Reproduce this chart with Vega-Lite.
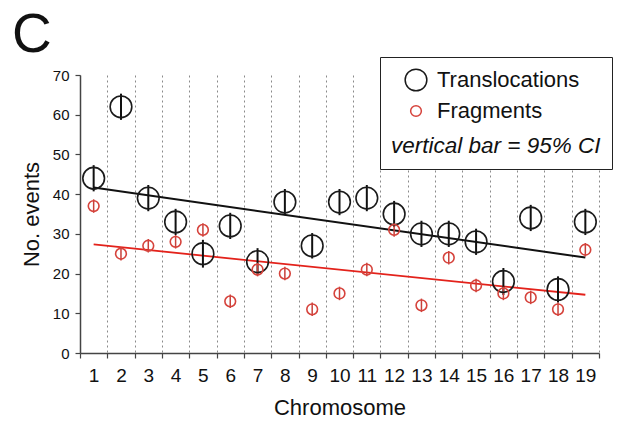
{
  "$schema": "https://vega.github.io/schema/vega-lite/v6.json",
  "autosize": "none",
  "width": 519,
  "height": 278,
  "padding": {"left": 80, "top": 75, "right": 22, "bottom": 73},
  "background": "white",
  "config": {
    "font": "Liberation Sans",
    "view": {"stroke": null},
    "axis": {"labelColor": "#111", "titleColor": "#111", "titleFontWeight": "normal", "domainColor": "#444", "tickColor": "#444", "domainWidth": 1.5, "tickWidth": 1.2},
    "axisY": {"tickCount": 8, "labelOverlap": false, "labelFontSize": 15, "labelPadding": 6, "tickSize": 5, "grid": false, "titleFontSize": 22, "titlePadding": 9}
  },
  "title": {"text": "C", "anchor": "start", "frame": "group", "orient": "top", "offset": 2, "dx": -68, "dy": 52, "fontSize": 55, "fontWeight": "normal", "color": "#111", "baseline": "alphabetic"},
  "data": {"values": [
    {"chrom": 1, "series": "Translocations", "count": 44, "lo": 40.7, "hi": 47.3},
    {"chrom": 2, "series": "Translocations", "count": 62, "lo": 58.7, "hi": 65.3},
    {"chrom": 3, "series": "Translocations", "count": 39, "lo": 35.7, "hi": 42.3},
    {"chrom": 4, "series": "Translocations", "count": 33, "lo": 29.7, "hi": 36.3},
    {"chrom": 5, "series": "Translocations", "count": 25, "lo": 21.5, "hi": 28.5},
    {"chrom": 6, "series": "Translocations", "count": 32, "lo": 28.7, "hi": 35.3},
    {"chrom": 7, "series": "Translocations", "count": 23, "lo": 19.6, "hi": 26.4},
    {"chrom": 8, "series": "Translocations", "count": 38, "lo": 34.7, "hi": 41.3},
    {"chrom": 9, "series": "Translocations", "count": 27, "lo": 23.8, "hi": 30.2},
    {"chrom": 10, "series": "Translocations", "count": 38, "lo": 34.7, "hi": 41.3},
    {"chrom": 11, "series": "Translocations", "count": 39, "lo": 35.7, "hi": 42.3},
    {"chrom": 12, "series": "Translocations", "count": 35, "lo": 31.7, "hi": 38.3},
    {"chrom": 13, "series": "Translocations", "count": 30, "lo": 26.7, "hi": 33.3},
    {"chrom": 14, "series": "Translocations", "count": 30, "lo": 26.7, "hi": 33.3},
    {"chrom": 15, "series": "Translocations", "count": 28, "lo": 24.7, "hi": 31.3},
    {"chrom": 16, "series": "Translocations", "count": 18, "lo": 14.6, "hi": 21.4},
    {"chrom": 17, "series": "Translocations", "count": 34, "lo": 30.7, "hi": 37.3},
    {"chrom": 18, "series": "Translocations", "count": 16, "lo": 12.7, "hi": 19.3},
    {"chrom": 19, "series": "Translocations", "count": 33, "lo": 29.7, "hi": 36.3},
    {"chrom": 1, "series": "Fragments", "count": 37, "lo": 35.3, "hi": 38.7},
    {"chrom": 2, "series": "Fragments", "count": 25, "lo": 23.3, "hi": 26.7},
    {"chrom": 3, "series": "Fragments", "count": 27, "lo": 25.3, "hi": 28.7},
    {"chrom": 4, "series": "Fragments", "count": 28, "lo": 26.3, "hi": 29.7},
    {"chrom": 5, "series": "Fragments", "count": 31, "lo": 29.3, "hi": 32.7},
    {"chrom": 6, "series": "Fragments", "count": 13, "lo": 11.3, "hi": 14.7},
    {"chrom": 7, "series": "Fragments", "count": 21, "lo": 19.3, "hi": 22.7},
    {"chrom": 8, "series": "Fragments", "count": 20, "lo": 18.3, "hi": 21.7},
    {"chrom": 9, "series": "Fragments", "count": 11, "lo": 9.3, "hi": 12.7},
    {"chrom": 10, "series": "Fragments", "count": 15, "lo": 13.3, "hi": 16.7},
    {"chrom": 11, "series": "Fragments", "count": 21, "lo": 19.3, "hi": 22.7},
    {"chrom": 12, "series": "Fragments", "count": 31, "lo": 29.3, "hi": 32.7},
    {"chrom": 13, "series": "Fragments", "count": 12, "lo": 10.3, "hi": 13.7},
    {"chrom": 14, "series": "Fragments", "count": 24, "lo": 22.3, "hi": 25.7},
    {"chrom": 15, "series": "Fragments", "count": 17, "lo": 15.3, "hi": 18.7},
    {"chrom": 16, "series": "Fragments", "count": 15, "lo": 13.3, "hi": 16.7},
    {"chrom": 17, "series": "Fragments", "count": 14, "lo": 12.3, "hi": 15.7},
    {"chrom": 18, "series": "Fragments", "count": 11, "lo": 9.3, "hi": 12.7},
    {"chrom": 19, "series": "Fragments", "count": 26, "lo": 24.3, "hi": 27.7}
  ]},
  "encoding": {
    "x": {
      "field": "chrom", "type": "quantitative",
      "scale": {"domain": [0.5, 19.5], "nice": false, "zero": false},
      "axis": {
        "title": "Chromosome", "titleFontSize": 22, "titlePadding": 12,
        "values": [0.5,1.5,2.5,3.5,4.5,5.5,6.5,7.5,8.5,9.5,10.5,11.5,12.5,13.5,14.5,15.5,16.5,17.5,18.5,19.5],
        "labelExpr": "datum.value < 19 ? format(datum.value + 0.5, 'd') : ''",
        "labelOffset": 13.6, "labelFontSize": 19, "labelPadding": 8, "labelFlush": false, "labelOverlap": false,
        "tickSize": 5,
        "grid": true, "gridDash": [2, 3], "gridColor": "#8a8a8a", "gridWidth": 1
      }
    }
  },
  "layer": [
    {
      "transform": [{"filter": "datum.series === 'Translocations'"}, {"regression": "count", "on": "chrom"}],
      "mark": {"type": "line", "strokeWidth": 2, "color": "#111111"},
      "encoding": {"y": {
          "field": "count", "type": "quantitative",
          "scale": {"domain": [0, 70], "nice": false, "zero": true},
          "axis": {"title": "No. events", "values": [0,10,20,30,40,50,60,70], "tickCount": 8, "labelOverlap": false}
      }}
    },
    {
      "transform": [{"filter": "datum.series === 'Fragments'"}, {"regression": "count", "on": "chrom"}],
      "mark": {"type": "line", "strokeWidth": 1.8, "color": "#e3221b"},
      "encoding": {"y": {"field": "count", "type": "quantitative", "axis": {"title": "No. events", "values": [0,10,20,30,40,50,60,70], "tickCount": 8, "labelOverlap": false}}}
    },
    {
      "transform": [{"filter": "datum.series === 'Translocations'"}],
      "mark": {"type": "rule", "color": "#111111", "strokeWidth": 2},
      "encoding": {"y": {"field": "lo", "type": "quantitative", "axis": {"title": "No. events", "values": [0,10,20,30,40,50,60,70], "tickCount": 8, "labelOverlap": false}}, "y2": {"field": "hi"}}
    },
    {
      "transform": [{"filter": "datum.series === 'Fragments'"}],
      "mark": {"type": "rule", "color": "#c8403a", "strokeWidth": 1.5},
      "encoding": {"y": {"field": "lo", "type": "quantitative", "axis": {"title": "No. events", "values": [0,10,20,30,40,50,60,70], "tickCount": 8, "labelOverlap": false}}, "y2": {"field": "hi"}}
    },
    {
      "mark": {"type": "point", "shape": "circle", "filled": false, "opacity": 1, "strokeWidth": 1.6},
      "encoding": {
        "y": {"field": "count", "type": "quantitative", "axis": {"title": "No. events", "values": [0,10,20,30,40,50,60,70], "tickCount": 8, "labelOverlap": false}},
        "color": {
          "field": "series", "type": "nominal",
          "scale": {"domain": ["Translocations", "Fragments"], "range": ["#1a1a1a", "#d6433c"]},
          "legend": {
            "title": "vertical bar = 95% CI", "titleOrient": "bottom", "titleFontStyle": "italic", "titleFontWeight": "normal", "titleFontSize": 22.5, "titleColor": "#111", "titlePadding": 13, "titleLimit": 400,
            "labelFontSize": 22, "labelColor": "#111", "labelOffset": 9, "labelLimit": 300,
            "orient": "none", "legendX": 300, "legendY": -18,
            "strokeColor": "#222", "fillColor": "white", "padding": 11,
            "symbolType": "circle", "symbolStrokeWidth": 1.5, "symbolFillColor": "transparent", "symbolOffset": 13, "rowPadding": 6,
            "encode": {"legend": {"update": {"strokeWidth": {"value": 1.5}}}}
          }
        },
        "size": {
          "field": "series", "type": "nominal",
          "scale": {"domain": ["Translocations", "Fragments"], "range": [470, 115]}
        }
      }
    }
  ]
}
